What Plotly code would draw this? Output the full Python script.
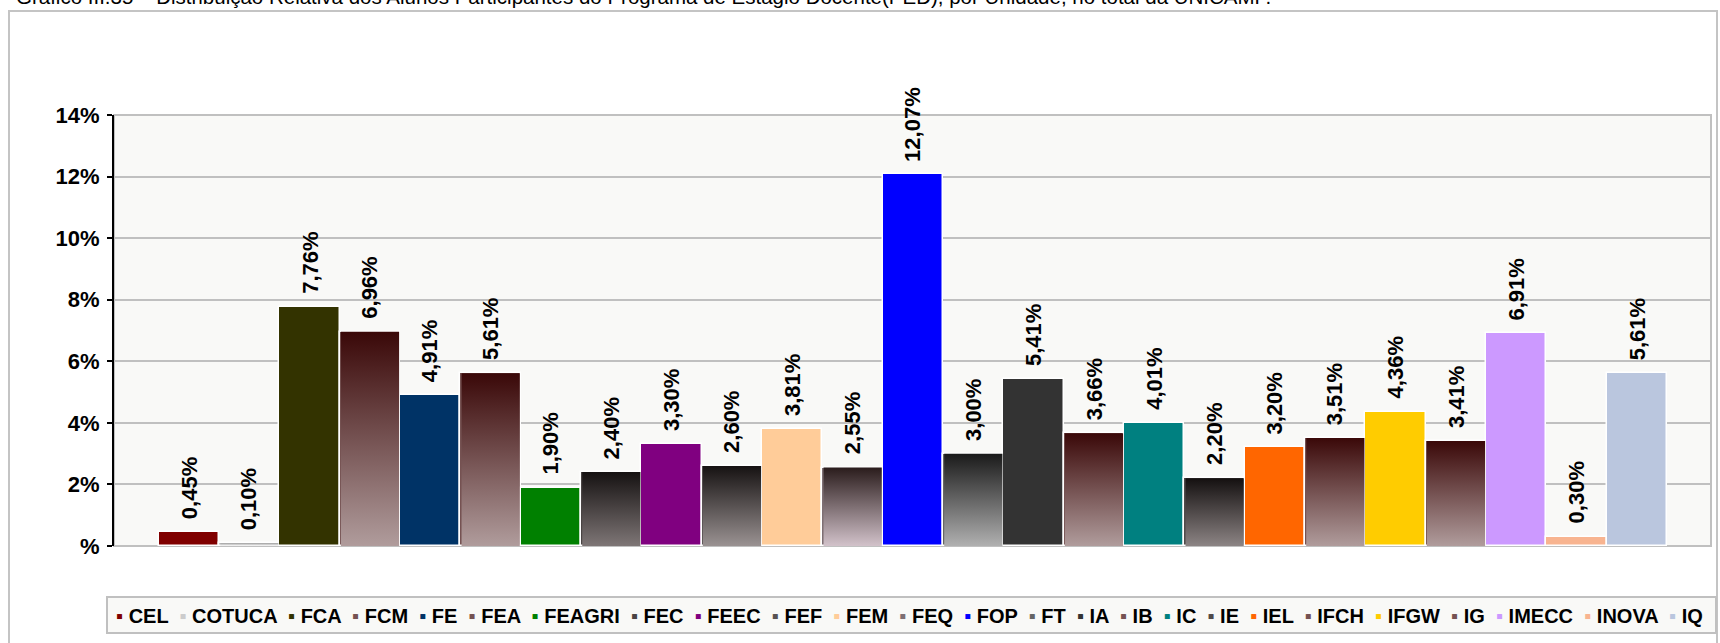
import plotly.graph_objects as go

# ---------------- data ----------------
units = ["CEL", "COTUCA", "FCA", "FCM", "FE", "FEA", "FEAGRI", "FEC", "FEEC", "FEF",
         "FEM", "FEQ", "FOP", "FT", "IA", "IB", "IC", "IE", "IEL", "IFCH", "IFGW",
         "IG", "IMECC", "INOVA", "IQ"]
percent = [0.45, 0.10, 7.76, 6.96, 4.91, 5.61, 1.90, 2.40, 3.30, 2.60,
           3.81, 2.55, 12.07, 3.00, 5.41, 3.66, 4.01, 2.20, 3.20, 3.51, 4.36,
           3.41, 6.91, 0.30, 5.61]
tick_values = [0, 2, 4, 6, 8, 10, 12, 14]
tick_labels = ["%", "2%", "4%", "6%", "8%", "10%", "12%", "14%"]
title_text = ("Gráfico III.35 – Distribuição Relativa dos Alunos Participantes do Programa "
              "de Estágio Docente(PED), por Unidade, no total da UNICAMP.")

# ---------------- styles ----------------
MAROON = ("#b09c9c", "#3a0808")   # (bottom, top)
solid = {"CEL": "#800000", "FCA": "#333300", "FE": "#003366", "FEAGRI": "#008000",
         "FEEC": "#800080", "FEM": "#FFCC99", "FOP": "#0000FF", "IA": "#333333",
         "IC": "#008080", "IEL": "#FF6600", "IFGW": "#FFCC00", "IMECC": "#CC99FF",
         "INOVA": "#F8B490", "IQ": "#BAC6DE"}
gradient = {"COTUCA": ("#ffffff", "#9a9a9a"), "FCM": MAROON, "FEA": MAROON,
            "FEC": ("#7e7676", "#161212"), "FEF": ("#9a9292", "#161212"),
            "FEQ": ("#d2c2ca", "#2a1c1c"), "FT": ("#b0b0b0", "#1a1a1a"),
            "IB": MAROON, "IE": ("#8c8484", "#141010"), "IFCH": MAROON, "IG": MAROON}

W, H = 1720, 643
L, R, T, B = 114, 1711, 115, 546   # plot area in pixels
FONT = "Liberation Sans, Arial, sans-serif"


def px_x(p):
    return (p - L) / (R - L)


def px_y(p):
    return (B - p) / (B - T)


def mid(c1, c2):
    a = [int(c1[i:i + 2], 16) for i in (1, 3, 5)]
    b = [int(c2[i:i + 2], 16) for i in (1, 3, 5)]
    return "#" + "".join(f"{(x + y) // 2:02x}" for x, y in zip(a, b))


fig = go.Figure()
bar_w = 1.0
inner_w = 0.965
for i, (name, v) in enumerate(zip(units, percent)):
    col = solid.get(name) or mid(*gradient[name])
    fig.add_trace(go.Bar(x=[i], y=[v], name=name, width=bar_w,
                         marker=dict(color=col, line=dict(color="white", width=1.5)),
                         showlegend=False))
    if name in gradient:
        bot, top = gradient[name]
        h = inner_w / 2
        fig.add_trace(go.Scatter(
            x=[i - h, i + h, i + h, i - h, i - h], y=[0, 0, v, v, 0],
            mode="lines", line=dict(width=0), fill="toself",
            fillgradient=dict(type="vertical", colorscale=[[0, bot], [1, top]]),
            hoverinfo="skip", showlegend=False))

# data labels
for i, v in enumerate(percent):
    fig.add_annotation(x=i, y=v, xref="x", yref="y",
                       text=f"{v:.2f}".replace(".", ",") + "%",
                       textangle=-90, showarrow=False, xanchor="center", yanchor="bottom",
                       yshift=11, font=dict(family=FONT, size=22, color="black", weight="bold"))

# legend (as text)
parts = []
for name in units:
    col = solid.get(name) or mid(*gradient[name])
    parts.append(f"<span style='color:{col}'>▪</span> {name}")
fig.add_annotation(xref="paper", yref="paper", x=px_x(114), y=px_y(616),
                   xanchor="left", yanchor="middle", showarrow=False,
                   text="  ".join(parts),
                   font=dict(family=FONT, size=20, color="black", weight="bold"))

# title (cut off at top, as in the source image)
fig.add_annotation(xref="paper", yref="paper", x=px_x(14), y=px_y(-4),
                   xanchor="left", yanchor="middle", showarrow=False, text=title_text,
                   font=dict(family=FONT, size=20.5, color="black"))

shapes = [
    # outer chart frame
    dict(type="rect", xref="paper", yref="paper", x0=px_x(9), x1=px_x(1717),
         y0=px_y(660), y1=px_y(11), line=dict(color="#c4c4c4", width=2), layer="below"),
    # plot area frame
    dict(type="rect", xref="paper", yref="paper", x0=0, x1=1, y0=0, y1=1,
         line=dict(color="#c0c0c0", width=2), layer="below"),
    # legend frame
    dict(type="rect", xref="paper", yref="paper", x0=px_x(107), x1=px_x(1716),
         y0=px_y(633), y1=px_y(597), line=dict(color="#c0c0c0", width=2),
         fillcolor="#f9f9f7", layer="below"),
]

fig.update_layout(
    width=W, height=H,
    margin=dict(l=L, r=W - R, t=T, b=H - B, pad=0),
    paper_bgcolor="white", plot_bgcolor="#f9f9f7",
    barmode="overlay", bargap=0,
    shapes=shapes,
    font=dict(family=FONT, color="black"),
    xaxis=dict(range=[-1.243, 25.227], showticklabels=False, showgrid=False,
               zeroline=False, showline=False, ticks=""),
    yaxis=dict(range=[0, 14], tickvals=tick_values, ticktext=tick_labels,
               showgrid=True, gridcolor="#c0c0c0", gridwidth=2, zeroline=False,
               showline=True, linecolor="black", linewidth=2,
               ticks="outside", ticklen=5, tickwidth=2, tickcolor="black",
               ticklabelstandoff=3,
               tickfont=dict(family=FONT, size=22, color="black", weight="bold")),
)

fig.write_html("out.html", config={"displayModeBar": False},
               post_script="document.body.style.margin='0';"
                           "document.body.style.overflow='hidden';")
